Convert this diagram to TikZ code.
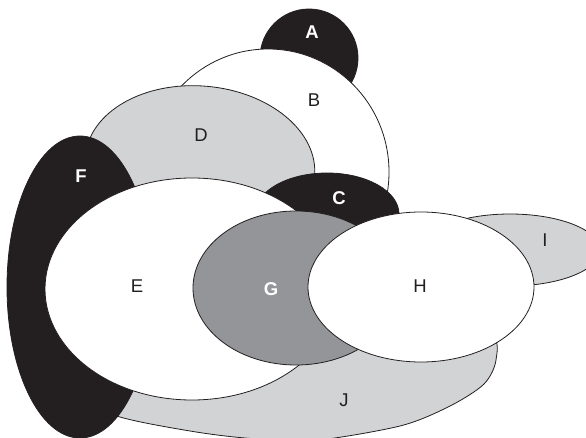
\documentclass[tikz,border=0pt]{standalone}
\usepackage{fontspec}
\setmainfont{Liberation Sans}
\definecolor{inkblack}{HTML}{231F20}
\definecolor{lightgrey}{HTML}{D1D3D4}
\definecolor{midgrey}{HTML}{939598}
\begin{document}
\begin{tikzpicture}[x=1pt,y=-1pt,
  outline/.style={draw=inkblack, line width=0.8pt},
  blackset/.style={outline, fill=inkblack},
  whiteset/.style={outline, fill=white},
  greyset/.style={outline, fill=lightgrey},
  darkset/.style={outline, fill=midgrey},
  lbl/.style={font=\fontsize{18.5}{18.5}\selectfont, text=inkblack, inner sep=0pt},
  lblw/.style={font=\fontsize{18.5}{18.5}\selectfont\bfseries, text=white, inner sep=0pt}]
\useasboundingbox (0,0) rectangle (586,438);
\clip (0,0) rectangle (586,438);
% sets, back to front
\path[blackset] (309,58) circle [radius=49];                         % A
\path[whiteset] (268,172) ellipse [x radius=121, y radius=123];      % B
\path[greyset]  (200,166) [rotate around={-5:(200,166)}] ellipse [x radius=115, y radius=80]; % D
\path[blackset] (327,214) ellipse [x radius=72, y radius=41];        % C
\path[greyset]  (510,250) ellipse [x radius=90, y radius=36];        % I
\path[greyset]  plot[smooth cycle] coordinates {                      % J
  (70,395) (120,417) (190,431) (245,438) (310,441) (400,426) (450,406)
  (484,384) (496,360) (490,334) (420,318) (300,325) (200,345) (120,368)};
\path[blackset] (80,287) ellipse [x radius=73, y radius=151];        % F
\path[whiteset] (192,289) ellipse [x radius=147, y radius=111];      % E
\path[darkset]  (296,288) ellipse [x radius=103, y radius=77];       % G
\path[whiteset] (421,287) ellipse [x radius=113, y radius=75];       % H
% labels
\node[lblw] (lA) at (312,32)  {A};
\node[lbl]  (lB) at (314,100) {B};
\node[lblw] (lC) at (339,198) {C};
\node[lbl]  (lD) at (201,135) {D};
\node[lbl]  (lE) at (137,286) {E};
\node[lblw] (lF) at (81,176)  {F};
\node[lblw] (lG) at (271,289) {G};
\node[lbl]  (lH) at (420,286) {H};
\node[lbl]  (lI) at (545,240) {I};
\node[lbl]  (lJ) at (344,400) {J};
\end{tikzpicture}
\end{document}
